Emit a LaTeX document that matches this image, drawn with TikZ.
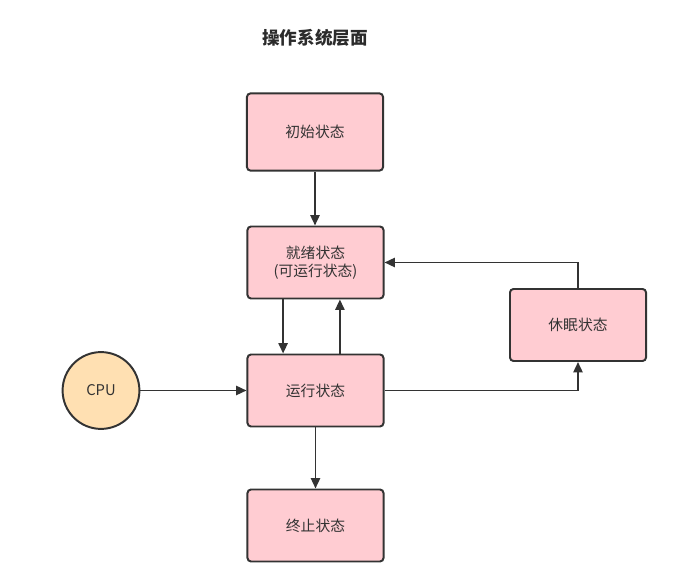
\documentclass[tikz,border=0pt]{standalone}
\usepackage{fontspec}
\setmainfont{Noto Sans CJK SC}
\usetikzlibrary{arrows.meta,positioning}
\definecolor{ink}{HTML}{333333}
\definecolor{blush}{HTML}{FFCCD2}
\definecolor{peach}{HTML}{FFE0B2}

\begin{document}
\begin{tikzpicture}[x=0.025cm,y=-0.025cm,font=\fontsize{10.5}{13}\selectfont,
  state/.style={draw=ink,fill=blush,line width=1.4pt,rounded corners=2.5pt,minimum width=3.4cm,minimum height=1.8cm,text=ink,align=center},
  cpu/.style={circle,draw=ink,fill=peach,line width=1.4pt,minimum size=1.92cm,text=ink},
  flow/.style={draw=ink,line width=1.4pt,-{Triangle[length=2.6mm,width=2.3mm]}}]
\useasboundingbox (0,0) rectangle (680,583);
% title
\node[font=\bfseries\fontsize{12.5}{15}\selectfont,text=ink!85!black] (title) at (315,38) {操作系统层面};
% states
\node[state,minimum height=1.93cm] (init) at (315,132) {初始状态};
\node[state] (ready) at (315.5,262.5) {就绪状态\\(可运行状态)};
\node[state] (run) at (315.5,390.5) {运行状态};
\node[state] (done) at (315.5,525.5) {终止状态};
\node[state] (sleep) at (578,325) {休眠状态};
\node[cpu] (cpu) at (101,390.5) {CPU};
% transitions
\draw[flow] (init) -- (init|-ready.north);
\draw[flow] ([xshift=-0.81cm]ready.south) -- ([xshift=-0.81cm]run.north);
\draw[flow] ([xshift=0.61cm]run.north) -- ([xshift=0.61cm]ready.south);
\draw[flow] (run.east) -| (sleep.south);
\draw[flow] (sleep.north) |- (ready.east);
\draw[flow] (cpu) -- (run);
\draw[flow] (run) -- (done);
\end{tikzpicture}
\end{document}
